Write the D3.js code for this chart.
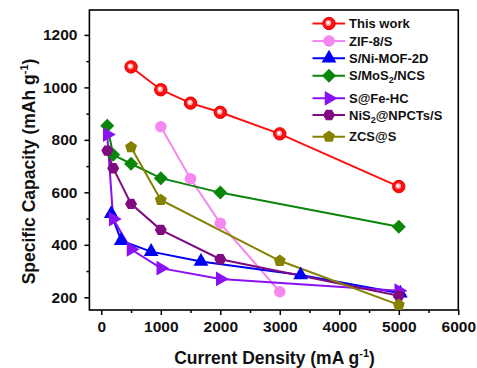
<!DOCTYPE html>
<html>
<head>
<meta charset="utf-8">
<script src="https://cdn.jsdelivr.net/npm/d3@7"></script>
<style>
  html, body { margin: 0; padding: 0; background: #fff; }
  svg { display: block; font-family: "Liberation Sans", Arial, sans-serif; }
</style>
</head>
<body>
<svg id="chart" width="477" height="368"></svg>
<script>
// Rate capability of the cathodes: current density (mA g-1) vs specific capacity (mAh g-1)
const thisWorkX = [500, 1000, 1500, 2000, 3000, 5000];
const thisWorkY = [1078, 991, 940, 905, 823, 622];
const zifX = [1000, 1500, 2000, 3000];
const zifY = [850, 652, 482, 221];
const niMofX = [167.5, 335, 837.5, 1675, 3350, 5025];
const niMofY = [518, 416, 374, 336, 285, 215];
const mosX = [100, 200, 500, 1000, 2000, 5000];
const mosY = [854, 743, 709, 654, 599, 469];
const feX = [100, 200, 500, 1000, 2000, 5000];
const feY = [820, 498, 383, 311, 270, 225];
const nisX = [100, 200, 500, 1000, 2000, 5000];
const nisY = [759, 692, 556, 457, 345, 206];
const zcsX = [500, 1000, 3000, 5000];
const zcsY = [772, 571, 339, 171];

const seriesNames = ["This work", "ZIF-8/S", "S/Ni-MOF-2D", "S/MoS2/NCS", "S@Fe-HC", "NiS2@NPCTs/S", "ZCS@S"];
const xTicks = [0, 1000, 2000, 3000, 4000, 5000, 6000];
const yTicks = [200, 400, 600, 800, 1000, 1200];

const series = [
  { name: seriesNames[0], xs: thisWorkX, ys: thisWorkY, color: "#ff1010", shape: "sphere" },
  { name: seriesNames[1], xs: zifX, ys: zifY, color: "#f587f0", shape: "circle" },
  { name: seriesNames[2], xs: niMofX, ys: niMofY, color: "#0000f5", shape: "triUp" },
  { name: seriesNames[3], xs: mosX, ys: mosY, color: "#0a860a", shape: "diamond" },
  { name: seriesNames[4], xs: feX, ys: feY, color: "#8a10f5", shape: "triRight" },
  { name: seriesNames[5], xs: nisX, ys: nisY, color: "#800a80", shape: "hexagon" },
  { name: seriesNames[6], xs: zcsX, ys: zcsY, color: "#858200", shape: "pentagon" }
];

const svg = d3.select("#chart");
const plotLeft = 89.4, plotRight = 458.3, plotTop = 10, plotBottom = 310;

const x = d3.scaleLinear().domain([-200, 6000]).range([plotLeft, plotRight]);
const y = d3.scaleLinear().domain([151.5, 1295]).range([plotBottom, plotTop]);

// polygon helper for diamond / pentagon / hexagon markers
function polygon(n, r, rot) {
  const pts = d3.range(n).map(i => {
    const a = rot + i * 2 * Math.PI / n;
    return [r * Math.cos(a), r * Math.sin(a)];
  });
  return "M" + pts.map(p => p.join(",")).join("L") + "Z";
}

function drawMarker(g, shape, color) {
  if (shape === "sphere") {
    g.append("circle").attr("r", 6.2).attr("fill", color).attr("stroke", "#e00000").attr("stroke-width", 1);
    g.append("circle").attr("r", 2.8).attr("cx", -0.6).attr("cy", -0.6).attr("fill", "#ffb0b0");
    g.append("circle").attr("r", 1.3).attr("cx", -0.8).attr("cy", -0.8).attr("fill", "#ffffff");
  } else if (shape === "circle") {
    g.append("circle").attr("r", 5.8).attr("fill", color);
  } else if (shape === "triUp") {
    g.append("path").attr("d", d3.symbol(d3.symbolTriangle, 95)()).attr("fill", color);
  } else if (shape === "triRight") {
    g.append("path").attr("d", d3.symbol(d3.symbolTriangle, 95)()).attr("transform", "rotate(90)").attr("fill", color);
  } else if (shape === "diamond") {
    g.append("path").attr("d", polygon(4, 7, -Math.PI / 2)).attr("fill", color);
  } else if (shape === "hexagon") {
    g.append("path").attr("d", polygon(6, 6, 0)).attr("fill", color);
  } else if (shape === "pentagon") {
    g.append("path").attr("d", polygon(5, 6.3, -Math.PI / 2)).attr("fill", color);
  }
}

// axes: ticks point outward
const xMinor = d3.range(0, 6001, 500).filter(v => v % 1000 !== 0);
const yMinor = d3.range(200, 1290, 100).filter(v => v % 200 !== 0);

const xAxis = svg.append("g").attr("transform", `translate(0,${plotBottom})`)
  .call(d3.axisBottom(x).tickValues(xTicks).tickSize(5).tickPadding(6).tickFormat(d3.format("d")));
const xMin = svg.append("g").attr("transform", `translate(0,${plotBottom})`)
  .call(d3.axisBottom(x).tickValues(xMinor).tickSize(3).tickFormat(""));
const yAxis = svg.append("g").attr("transform", `translate(${plotLeft},0)`)
  .call(d3.axisLeft(y).tickValues(yTicks).tickSize(5).tickPadding(7).tickFormat(d3.format("d")));
const yMin = svg.append("g").attr("transform", `translate(${plotLeft},0)`)
  .call(d3.axisLeft(y).tickValues(yMinor).tickSize(3).tickFormat(""));

[xAxis, xMin, yAxis, yMin].forEach(a => {
  a.select(".domain").remove();
  a.selectAll("line").attr("stroke", "#000").attr("stroke-width", 1.5);
  a.selectAll("text").attr("font-family", "'Liberation Sans', Arial, sans-serif")
    .attr("font-size", 15.5).attr("font-weight", "bold").attr("fill", "#111");
});

// plot frame
svg.append("rect").attr("x", plotLeft).attr("y", plotTop)
  .attr("width", plotRight - plotLeft).attr("height", plotBottom - plotTop)
  .attr("fill", "none").attr("stroke", "#000").attr("stroke-width", 1.6);

// series lines and markers
const line = d3.line().x(d => x(d[0])).y(d => y(d[1]));
series.forEach(s => {
  const pts = s.xs.map((v, i) => [v, s.ys[i]]);
  svg.append("path").datum(pts).attr("d", line)
    .attr("fill", "none").attr("stroke", s.color).attr("stroke-width", 2);
});
series.forEach(s => {
  s.xs.forEach((v, i) => {
    const g = svg.append("g").attr("transform", `translate(${x(v)},${y(s.ys[i])})`);
    drawMarker(g, s.shape, s.color);
  });
});

// legend
const legendRows = [23.5, 41, 58.3, 75.7, 98.3, 115, 136.7];
series.forEach((s, i) => {
  const ly = legendRows[i];
  const g = svg.append("g");
  g.append("line").attr("x1", 312.5).attr("x2", 345).attr("y1", ly).attr("y2", ly)
    .attr("stroke", s.color).attr("stroke-width", 2);
  drawMarker(g.append("g").attr("transform", `translate(329,${ly})`), s.shape, s.color);
  const t = g.append("text").attr("x", 349).attr("y", ly + 4.6)
    .attr("font-size", 13).attr("font-weight", "bold").attr("fill", "#111");
  const m = s.name.match(/^(.*?S)2(.*)$/);
  if (m && (s.name.startsWith("S/MoS2") || s.name.startsWith("NiS2"))) {
    t.append("tspan").text(m[1]);
    t.append("tspan").attr("font-size", 9).attr("dy", 3).text("2");
    t.append("tspan").attr("dy", -3).text(m[2]);
  } else {
    t.text(s.name);
  }
});

// axis titles
const xt = svg.append("text").attr("x", 274.5).attr("y", 364).attr("text-anchor", "middle")
  .attr("font-size", 17.5).attr("font-weight", "bold").attr("fill", "#111");
xt.append("tspan").text("Current Density (mA g");
xt.append("tspan").attr("font-size", 11).attr("dy", -7).text("-1");
xt.append("tspan").attr("dy", 7).text(")");

const yt = svg.append("text").attr("transform", "translate(35,171.5) rotate(-90)").attr("text-anchor", "middle")
  .attr("font-size", 17.5).attr("font-weight", "bold").attr("fill", "#111");
yt.append("tspan").text("Specific Capacity (mAh g");
yt.append("tspan").attr("font-size", 11).attr("dy", -7).text("-1");
yt.append("tspan").attr("dy", 7).text(")");
</script>
</body>
</html>
